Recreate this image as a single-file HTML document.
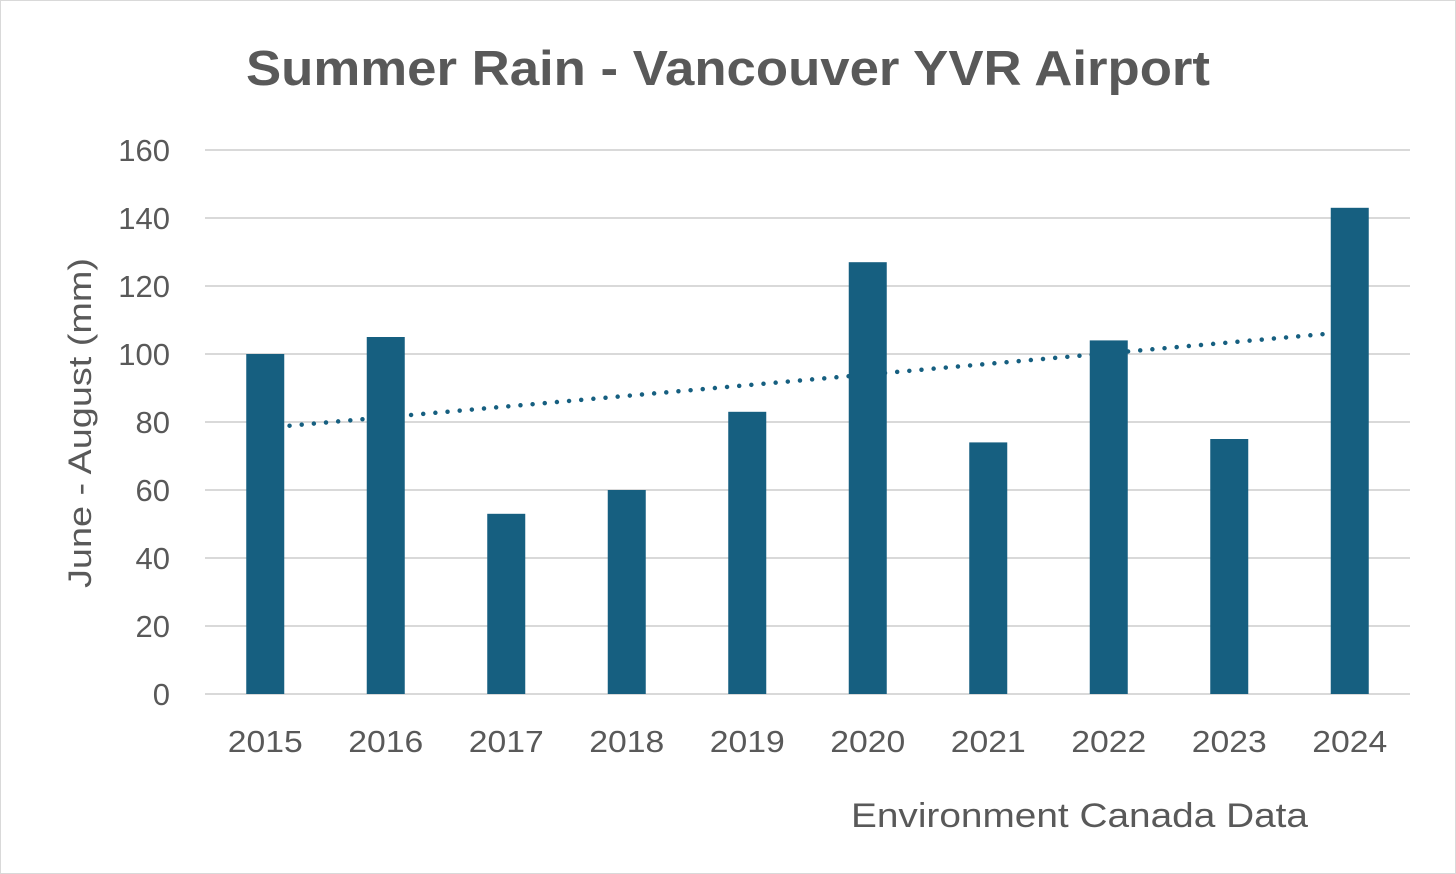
<!DOCTYPE html>
<html><head><meta charset="utf-8"><style>
html,body{margin:0;padding:0;background:#fff}
svg{display:block}
text{font-family:"Liberation Sans",sans-serif;fill:#595959}
</style></head><body>
<svg width="1456" height="874" viewBox="0 0 1456 874">
<rect x="0.5" y="0.5" width="1455" height="873" fill="#fff" stroke="#d9d9d9"/>
<text x="246" y="85" font-size="49" font-weight="bold" textLength="964" lengthAdjust="spacingAndGlyphs">Summer Rain - Vancouver YVR Airport</text>
<g id="grid"></g><g id="trend"></g><g id="bars"></g><g id="ylab"></g><g id="xlab"></g>
<text transform="translate(91,588) rotate(-90)" font-size="32" textLength="330" lengthAdjust="spacingAndGlyphs">June - August (mm)</text>
<text x="851" y="827" font-size="34" textLength="457" lengthAdjust="spacingAndGlyphs">Environment Canada Data</text>
</svg>
<script>
const categories=["2015","2016","2017","2018","2019","2020","2021","2022","2023","2024"];
const values=[100,105,53,60,83,127,74,104,75,143];
const yTicks=[0,20,40,60,80,100,120,140,160];
const NS="http://www.w3.org/2000/svg";
const x0=205,x1=1410,y0=694,y1=150,ymax=160;
const step=(x1-x0)/categories.length;
const xc=i=>x0+step*(i+0.5);
const ys=v=>y0-(v/ymax)*(y0-y1);
function mk(t,a,p){const e=document.createElementNS(NS,t);for(const k in a)e.setAttribute(k,a[k]);p.appendChild(e);return e;}
const g=document.getElementById('grid'),yl=document.getElementById('ylab');
yTicks.forEach(v=>{
 const l=mk('line',{x1:x0,x2:x1,y1:ys(v),y2:ys(v),stroke:'#d9d9d9','stroke-width':2},g);
 
 
 const t=mk('text',{x:170,y:ys(v)+11,'text-anchor':'end','font-size':31},yl);t.textContent=v;
 
 
});
const n=values.length,mx=(n-1)/2,my=values.reduce((a,b)=>a+b,0)/n;
let sxy=0,sxx=0;values.forEach((v,i)=>{sxy+=(i-mx)*(v-my);sxx+=(i-mx)*(i-mx);});
const sl=sxy/sxx,ic=my-sl*mx;
const tr=mk('line',{x1:xc(0),x2:xc(n-1),y1:ys(ic),y2:ys(ic+sl*(n-1)),stroke:'#165f80','stroke-width':4.5,'stroke-linecap':'round','stroke-dasharray':'0 12.2'},document.getElementById('trend'));


const b=document.getElementById('bars'),xl=document.getElementById('xlab');
values.forEach((v,i)=>{
 const r=mk('rect',{x:xc(i)-19,y:ys(v),width:38,height:y0-ys(v),fill:'#165f80'},b);
 
 
 const t=mk('text',{x:xc(i),y:752,'text-anchor':'middle','font-size':31,textLength:75,lengthAdjust:'spacingAndGlyphs'},xl);t.textContent=categories[i];
 
 
});
</script>
</body></html>
